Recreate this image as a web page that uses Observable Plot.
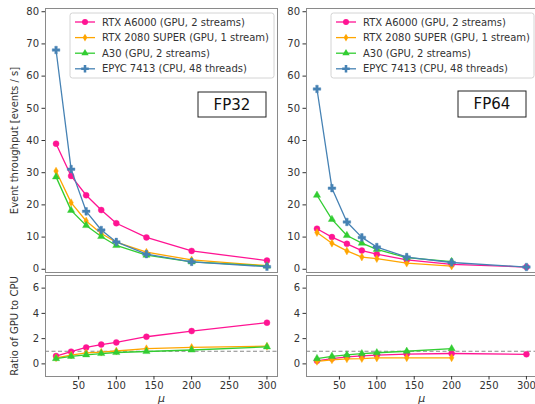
<!DOCTYPE html>
<html><head><meta charset="utf-8">
<script src="https://cdn.jsdelivr.net/npm/d3@7"></script>
<script src="https://cdn.jsdelivr.net/npm/@observablehq/plot@0.6"></script>
<style>
html,body{margin:0;padding:0;background:#fff;overflow:hidden;}
#wrap{position:relative;width:535px;height:404px;overflow:hidden;font-family:"DejaVu Sans";}
#wrap svg{position:absolute;overflow:visible;}
</style></head><body><div id="wrap"></div>
<script>
// ---- data ----
const mu = [20, 40, 60, 80, 100, 140, 200, 300];
const muShort = [20, 40, 60, 80, 100, 140, 200];

const a6000_fp32   = [39.0, 29.0, 23.0, 18.4, 14.3, 9.9, 5.7, 2.7];
const rtx2080_fp32 = [30.5, 20.7, 15.0, 11.1, 8.4, 5.3, 2.9, 1.1];
const a30_fp32     = [28.7, 18.3, 13.6, 10.2, 7.4, 4.4, 2.3, 1.0];
const epyc_fp32    = [68.1, 31.1, 18.0, 12.2, 8.5, 4.7, 2.3, 0.8];

const a6000_fp64   = [12.6, 10.0, 7.9, 5.8, 4.7, 2.9, 1.5, 0.7];
const rtx2080_fp64 = [11.4, 8.1, 5.7, 3.8, 3.3, 1.9, 1.0];
const a30_fp64     = [23.0, 15.5, 10.5, 8.1, 6.2, 3.6, 2.4];
const epyc_fp64    = [56.0, 25.2, 14.7, 9.9, 6.9, 3.8, 2.1, 0.7];

const ratio_a6000_fp32 = [0.62, 0.97, 1.30, 1.53, 1.70, 2.15, 2.60, 3.26];
const ratio_2080_fp32  = [0.48, 0.70, 0.87, 0.93, 1.02, 1.20, 1.30, 1.40];
const ratio_a30_fp32   = [0.42, 0.60, 0.72, 0.82, 0.90, 0.98, 1.10, 1.35];

const ratio_a6000_fp64 = [0.24, 0.42, 0.56, 0.63, 0.70, 0.78, 0.82, 0.76];
const ratio_2080_fp64  = [0.20, 0.32, 0.40, 0.42, 0.47, 0.48, 0.48];
const ratio_a30_fp64   = [0.42, 0.60, 0.71, 0.81, 0.88, 1.00, 1.20];

const labels = ["RTX A6000 (GPU, 2 streams)", "RTX 2080 SUPER (GPU, 1 stream)", "A30 (GPU, 2 streams)", "EPYC 7413 (CPU, 48 threads)"];
const colors = ["#ff1493", "#ffa500", "#32cd32", "#4682b4"];
const symbols = ["circle", "diamond", "triangle", "cross"];
const radii = [3.0, 2.4, 2.7, 3.2];
const yTicksTop = [0, 10, 20, 30, 40, 50, 60, 70, 80];
const yTicksBottom = [0, 2, 4, 6];
const xTicks = [50, 100, 150, 200, 250, 300];

const d3sym = {circle: d3.symbolCircle, diamond: d3.symbolDiamond, triangle: d3.symbolTriangle, cross: d3.symbolCross};
const wrap = document.getElementById("wrap");

function panel(o) {
  const marks = [];
  if (o.dashed) marks.push(Plot.ruleY([1], {stroke: "#888", strokeDasharray: "4,2.5", strokeWidth: 1}));
  for (const s of o.series) {
    const i = s.k;
    const data = s.x.map((x, j) => ({x, y: s.y[j]}));
    marks.push(Plot.line(data, {x: "x", y: "y", stroke: colors[i], strokeWidth: 1.3}));
    marks.push(Plot.dot(data, {x: "x", y: "y", fill: colors[i], stroke: colors[i], strokeWidth: 0.4, symbol: symbols[i], r: radii[i]}));
  }
  marks.push(Plot.frame({stroke: "#8a8a8a", strokeWidth: 1}));
  marks.push(Plot.axisY({ticks: o.yTicks, tickSize: 3.5, tickPadding: 3, label: o.yLabel || null, labelAnchor: "center", labelArrow: "none", labelOffset: 35}));
  if (o.xAxis) marks.push(Plot.axisX({ticks: xTicks, tickSize: 3.5, tickPadding: 2, label: "μ", labelAnchor: "center", labelArrow: "none", labelOffset: 25}));
  const chart = Plot.plot({
    width: o.width, height: o.height,
    marginLeft: o.mL, marginRight: o.mR, marginTop: o.mT, marginBottom: o.mB,
    x: {domain: [6, 314], axis: o.xAxis ? undefined : null},
    y: {domain: o.yDomain},
    style: {fontFamily: "DejaVu Sans", fontSize: "10px", color: "#333", background: "transparent", overflow: "visible"},
    marks
  });
  chart.style.left = o.left + "px";
  chart.style.top = o.top + "px";
  wrap.appendChild(chart);
  d3.select(chart).selectAll('g[aria-label="x-axis label"] text').attr("font-style", "italic").attr("font-size", 11);
  return chart;
}

function addLegend(svg, x0, y0, w) {
  const g = d3.select(svg).append("g").attr("text-anchor", "start");
  g.append("rect").attr("x", x0).attr("y", y0).attr("width", w).attr("height", 65).attr("rx", 2.5)
    .attr("fill", "#fff").attr("fill-opacity", 0.85).attr("stroke", "#d4d4d4");
  labels.forEach((lab, i) => {
    const cy = y0 + 9 + i * 15.6;
    g.append("line").attr("x1", x0 + 5).attr("x2", x0 + 25).attr("y1", cy).attr("y2", cy)
      .attr("stroke", colors[i]).attr("stroke-width", 1.3);
    g.append("path").attr("d", d3.symbol(d3sym[symbols[i]], Math.PI * radii[i] * radii[i])())
      .attr("transform", `translate(${x0 + 15},${cy})`).attr("fill", colors[i]);
    g.append("text").attr("x", x0 + 32).attr("y", cy).attr("dy", "0.35em").attr("text-anchor", "start")
      .attr("font-family", "DejaVu Sans").attr("font-size", 10).attr("fill", "#333").text(lab);
  });
}

function addTag(svg, x, y, w, h, txt) {
  const g = d3.select(svg).append("g");
  g.append("rect").attr("x", x).attr("y", y).attr("width", w).attr("height", h)
    .attr("fill", "#fff").attr("stroke", "#222").attr("stroke-width", 1);
  g.append("text").attr("x", x + w / 2).attr("y", y + h / 2).attr("dy", "0.36em").attr("text-anchor", "middle")
    .attr("font-family", "DejaVu Sans").attr("font-size", 15).attr("fill", "#111").text(txt);
}

// top-left FP32
const tl = panel({
  left: 0, top: 0, width: 280, height: 275, mL: 45, mR: 3, mT: 8, mB: 3,
  yDomain: [-1, 81], yTicks: yTicksTop, yLabel: "Event throughput [events / s]", xAxis: false,
  series: [
    {k: 0, x: mu, y: a6000_fp32}, {k: 1, x: mu, y: rtx2080_fp32},
    {k: 2, x: mu, y: a30_fp32}, {k: 3, x: mu, y: epyc_fp32}
  ]
});
addLegend(tl, 70, 13, 204);
addTag(tl, 198, 92, 68, 25, "FP32");

// top-right FP64
const tr = panel({
  left: 265, top: 0, width: 280, height: 275, mL: 41, mR: 8.6, mT: 8, mB: 3,
  yDomain: [-1, 81], yTicks: yTicksTop, xAxis: false,
  series: [
    {k: 0, x: mu, y: a6000_fp64}, {k: 1, x: muShort, y: rtx2080_fp64},
    {k: 2, x: muShort, y: a30_fp64}, {k: 3, x: mu, y: epyc_fp64}
  ]
});
addLegend(tr, 66, 13, 203);
addTag(tr, 193, 91, 68, 26, "FP64");

// bottom-left ratio
panel({
  left: 0, top: 272, width: 280, height: 132, mL: 45, mR: 3, mT: 3, mB: 28,
  yDomain: [-1, 7], yTicks: yTicksBottom, yLabel: "Ratio of GPU to CPU", xAxis: true, dashed: true,
  series: [
    {k: 0, x: mu, y: ratio_a6000_fp32}, {k: 1, x: mu, y: ratio_2080_fp32}, {k: 2, x: mu, y: ratio_a30_fp32}
  ]
});

// bottom-right ratio
panel({
  left: 265, top: 272, width: 280, height: 132, mL: 41, mR: 8.6, mT: 3, mB: 28,
  yDomain: [-1, 7], yTicks: yTicksBottom, xAxis: true, dashed: true,
  series: [
    {k: 0, x: mu, y: ratio_a6000_fp64}, {k: 1, x: muShort, y: ratio_2080_fp64}, {k: 2, x: muShort, y: ratio_a30_fp64}
  ]
});
</script></body></html>
